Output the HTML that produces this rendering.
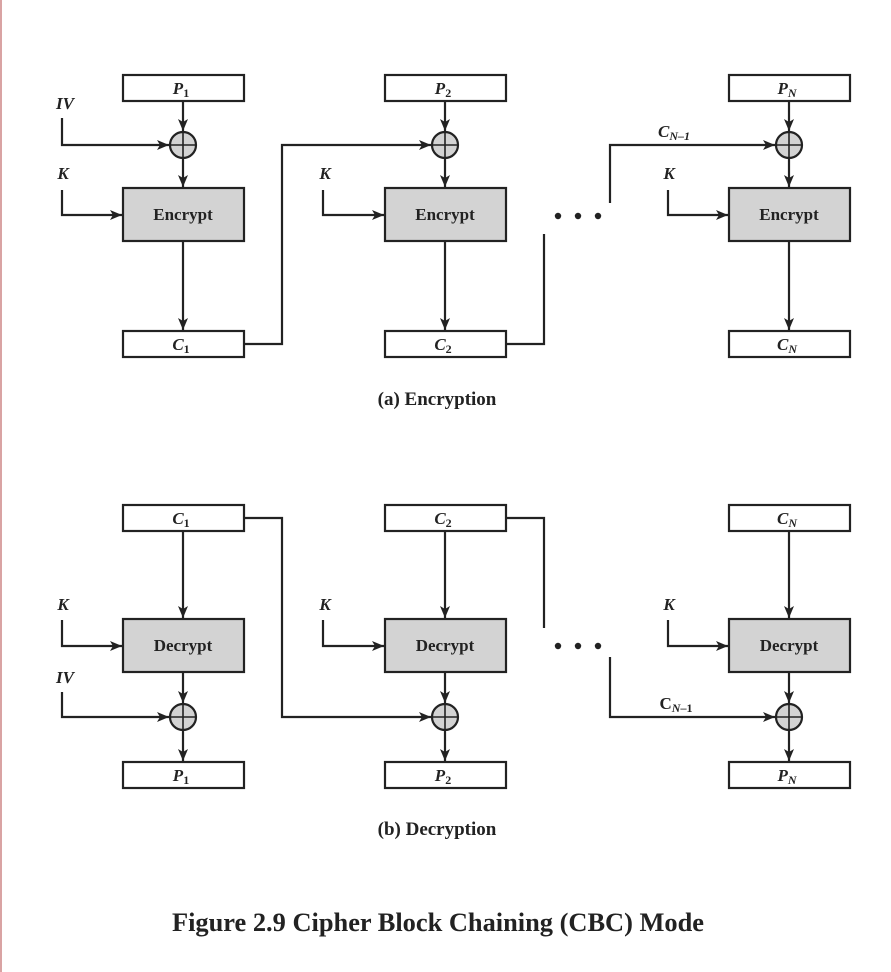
<!DOCTYPE html>
<html><head><meta charset="utf-8"><style>
html,body{margin:0;padding:0;background:#fff;}
svg{display:block;}
text{font-family:"Liberation Serif",serif;fill:#222;}
</style></head><body>
<svg width="891" height="972" viewBox="0 0 891 972" xmlns="http://www.w3.org/2000/svg">
<defs>
<marker id="a" viewBox="0 0 12 12" refX="12" refY="6" markerWidth="12" markerHeight="12" markerUnits="userSpaceOnUse" orient="auto"><path d="M0,1 L12,6 L0,11 L3,6 z" fill="#222"/></marker>
<g id="xor"><circle r="13" fill="#d3d3d3" stroke="#222" stroke-width="2.2"/><path d="M-13,0H13M0,-13V13" stroke="#222" stroke-width="1.6"/></g>
</defs>
<rect x="0" y="0" width="2" height="972" fill="#d9a3a3"/>
<g stroke="#222" stroke-width="2.2" fill="none">
<rect x="123" y="75" width="121" height="26" fill="#fff"/>
<rect x="385" y="75" width="121" height="26" fill="#fff"/>
<rect x="729" y="75" width="121" height="26" fill="#fff"/>
<rect x="123" y="188" width="121" height="53" fill="#d3d3d3"/>
<rect x="385" y="188" width="121" height="53" fill="#d3d3d3"/>
<rect x="729" y="188" width="121" height="53" fill="#d3d3d3"/>
<rect x="123" y="331" width="121" height="26" fill="#fff"/>
<rect x="385" y="331" width="121" height="26" fill="#fff"/>
<rect x="729" y="331" width="121" height="26" fill="#fff"/>
<path d="M183,101V131" marker-end="url(#a)"/>
<path d="M445,101V131" marker-end="url(#a)"/>
<path d="M789,101V131" marker-end="url(#a)"/>
<path d="M183,158V187" marker-end="url(#a)"/>
<path d="M445,158V187" marker-end="url(#a)"/>
<path d="M789,158V187" marker-end="url(#a)"/>
<path d="M183,241V330" marker-end="url(#a)"/>
<path d="M445,241V330" marker-end="url(#a)"/>
<path d="M789,241V330" marker-end="url(#a)"/>
<path d="M62,118V145H169" marker-end="url(#a)"/>
<path d="M62,190V215H122" marker-end="url(#a)"/>
<path d="M323,190V215H384" marker-end="url(#a)"/>
<path d="M668,190V215H728" marker-end="url(#a)"/>
<path d="M244,344H282V145H431" marker-end="url(#a)"/>
<path d="M506,344H544V234"/>
<path d="M610,203V145H775" marker-end="url(#a)"/>
<rect x="123" y="505" width="121" height="26" fill="#fff"/>
<rect x="385" y="505" width="121" height="26" fill="#fff"/>
<rect x="729" y="505" width="121" height="26" fill="#fff"/>
<rect x="123" y="619" width="121" height="53" fill="#d3d3d3"/>
<rect x="385" y="619" width="121" height="53" fill="#d3d3d3"/>
<rect x="729" y="619" width="121" height="53" fill="#d3d3d3"/>
<rect x="123" y="762" width="121" height="26" fill="#fff"/>
<rect x="385" y="762" width="121" height="26" fill="#fff"/>
<rect x="729" y="762" width="121" height="26" fill="#fff"/>
<path d="M183,531V618" marker-end="url(#a)"/>
<path d="M445,531V618" marker-end="url(#a)"/>
<path d="M789,531V618" marker-end="url(#a)"/>
<path d="M183,672V703" marker-end="url(#a)"/>
<path d="M445,672V703" marker-end="url(#a)"/>
<path d="M789,672V703" marker-end="url(#a)"/>
<path d="M183,730V761" marker-end="url(#a)"/>
<path d="M445,730V761" marker-end="url(#a)"/>
<path d="M789,730V761" marker-end="url(#a)"/>
<path d="M62,620V646H122" marker-end="url(#a)"/>
<path d="M323,620V646H384" marker-end="url(#a)"/>
<path d="M668,620V646H728" marker-end="url(#a)"/>
<path d="M62,692V717H169" marker-end="url(#a)"/>
<path d="M244,518H282V717H431" marker-end="url(#a)"/>
<path d="M506,518H544V628"/>
<path d="M610,657V717H775" marker-end="url(#a)"/>
</g>
<use href="#xor" x="183" y="145"/><use href="#xor" x="445" y="145"/><use href="#xor" x="789" y="145"/>
<use href="#xor" x="183" y="717"/><use href="#xor" x="445" y="717"/><use href="#xor" x="789" y="717"/>
<g fill="#222">
<circle cx="558" cy="216" r="3.2"/><circle cx="578" cy="216" r="3.2"/><circle cx="598" cy="216" r="3.2"/>
<circle cx="558" cy="646" r="3.2"/><circle cx="578" cy="646" r="3.2"/><circle cx="598" cy="646" r="3.2"/>
</g>
<g font-size="17" font-weight="bold" text-anchor="middle">
<text x="183" y="220">Encrypt</text><text x="445" y="220">Encrypt</text><text x="789" y="220">Encrypt</text>
<text x="183" y="651">Decrypt</text><text x="445" y="651">Decrypt</text><text x="789" y="651">Decrypt</text>
<text x="437" y="405" font-size="19">(a) Encryption</text>
<text x="437" y="835" font-size="19">(b) Decryption</text>
<text x="438" y="931" font-size="26.4">Figure 2.9  Cipher Block Chaining (CBC) Mode</text>
</g>
<g font-size="17" font-weight="bold" font-style="italic" text-anchor="middle">
<text x="181" y="94">P<tspan font-size="12" font-style="normal" dy="3">1</tspan></text>
<text x="443" y="94">P<tspan font-size="12" font-style="normal" dy="3">2</tspan></text>
<text x="787" y="94">P<tspan font-size="12" dy="3">N</tspan></text>
<text x="181" y="350">C<tspan font-size="12" font-style="normal" dy="3">1</tspan></text>
<text x="443" y="350">C<tspan font-size="12" font-style="normal" dy="3">2</tspan></text>
<text x="787" y="350">C<tspan font-size="12" dy="3">N</tspan></text>
<text x="181" y="524">C<tspan font-size="12" font-style="normal" dy="3">1</tspan></text>
<text x="443" y="524">C<tspan font-size="12" font-style="normal" dy="3">2</tspan></text>
<text x="787" y="524">C<tspan font-size="12" dy="3">N</tspan></text>
<text x="181" y="781">P<tspan font-size="12" font-style="normal" dy="3">1</tspan></text>
<text x="443" y="781">P<tspan font-size="12" font-style="normal" dy="3">2</tspan></text>
<text x="787" y="781">P<tspan font-size="12" dy="3">N</tspan></text>
<text x="65" y="109">IV</text>
<text x="63" y="179">K</text>
<text x="325" y="179">K</text>
<text x="669" y="179">K</text>
<text x="63" y="610">K</text>
<text x="325" y="610">K</text>
<text x="669" y="610">K</text>
<text x="65" y="683">IV</text>
<text x="674" y="137">C<tspan font-size="12" dy="3">N–1</tspan></text>
<text x="676" y="709" font-style="normal">C<tspan font-size="12" font-style="italic" dy="3">N</tspan><tspan font-size="12" font-style="normal">–1</tspan></text>
</g>
</svg>
</body></html>
